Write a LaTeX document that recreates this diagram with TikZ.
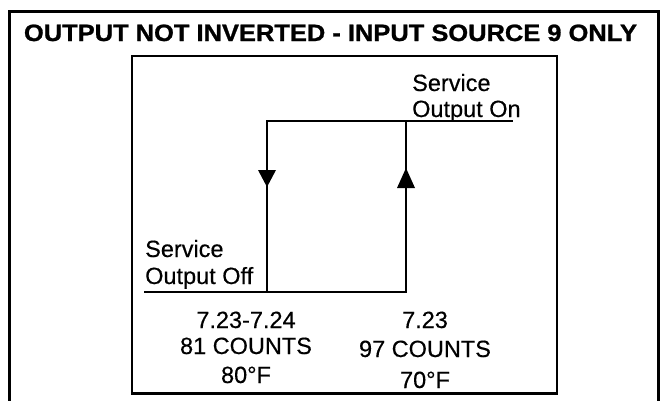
\documentclass[tikz,border=0pt]{standalone}
\usepackage{fontspec}
\usepackage{graphicx}
\setmainfont{Liberation Sans}[FakeBold=0.4]
\newfontfamily\titlefont{Liberation Sans Bold}[FakeBold=1.0]
\tikzset{
  frame/.style={draw=black, line width=3pt},
  inner frame/.style={draw=black, line width=2.5pt},
  trace/.style={draw=black, line width=2.5pt},
  lbl/.style={inner sep=0pt, font=\fontsize{23.5}{27}\selectfont},
  head/.style={fill=black},
}
\begin{document}
\begin{tikzpicture}[x=1pt,y=-1pt]
\useasboundingbox (0,0) rectangle (664,400);
% frames
\draw[frame] (9,11.5) rectangle (658,404);
\draw[inner frame] (132,56) rectangle (557,393.5);
% title
\node[inner sep=0pt, anchor=base] (title) at (330.5,41)
  {\resizebox{613pt}{16.5pt}{\titlefont OUTPUT NOT INVERTED - INPUT SOURCE 9 ONLY}};
% corners of the hysteresis loop
\coordinate (bl) at (144,292);
\coordinate (bm) at (267,292);
\coordinate (br) at (406,292);
\coordinate (tm) at (267,121);
\coordinate (tr) at (406,121);
\coordinate (te) at (513,121);
\draw[trace] (bl) -- (br) -- (tr) -- (te);
\draw[trace] (tr) -- (tm) -- (bm);
% arrow heads
\fill[head] ([xshift=-9pt,yshift=-170pt]tm |- 0,0) -- ([xshift=9pt,yshift=-170pt]tm |- 0,0) -- ([yshift=-187pt]tm |- 0,0) -- cycle;
\fill[head] ([xshift=-9pt,yshift=-188pt]tr |- 0,0) -- ([xshift=9pt,yshift=-188pt]tr |- 0,0) -- ([yshift=-168pt]tr |- 0,0) -- cycle;
% labels
\node[lbl, anchor=base west] (on1) at (412,91) {Service};
\node[lbl, anchor=base west] (on2) at (412,117) {Output On};
\node[lbl, anchor=base west] (off1) at (145,257) {Service};
\node[lbl, anchor=base west] (off2) at (145,284) {Output Off};
\node[lbl, anchor=base] (a1) at (246,328) {7.23-7.24};
\node[lbl, anchor=base] (a2) at (246,354) {81 COUNTS};
\node[lbl, anchor=base] (a3) at (246,383) {80°F};
\node[lbl, anchor=base] (b1) at (425,328) {7.23};
\node[lbl, anchor=base] (b2) at (425,357) {97 COUNTS};
\node[lbl, anchor=base] (b3) at (425,388) {70°F};
\end{tikzpicture}
\end{document}
